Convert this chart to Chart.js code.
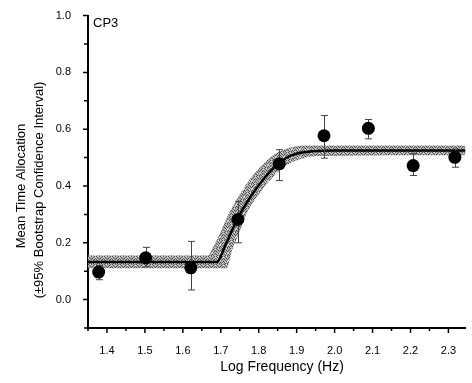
<!DOCTYPE html>
<html>
<head>
<meta charset="utf-8">
<script src="https://cdn.jsdelivr.net/npm/chart.js@4/dist/chart.umd.min.js"></script>
<style>
  html, body { margin: 0; padding: 0; background: #fff; }
  #wrap { width: 472px; height: 383px; }
</style>
</head>
<body>
<div id="wrap"><canvas id="chart"></canvas></div>
<script>
// observed data (log Hz, mean time allocation, 95% bootstrap CI)
var logFreq = [1.378, 1.502, 1.621, 1.745, 1.854, 1.972, 2.089, 2.207, 2.317];
var meanAlloc = [0.097, 0.147, 0.112, 0.282, 0.478, 0.577, 0.603, 0.472, 0.501];
var ciHigh = [0.12, 0.184, 0.205, 0.346, 0.528, 0.648, 0.634, 0.514, 0.53];
var ciLow = [0.07, 0.115, 0.034, 0.2, 0.419, 0.498, 0.566, 0.437, 0.466];

// fitted curve and its confidence band
var fitX = [1.35, 1.69, 1.71, 1.73, 1.75, 1.78, 1.81, 1.84, 1.87, 1.90, 1.94, 2.0, 2.345];
var fitY = [0.132, 0.132, 0.185, 0.245, 0.30, 0.365, 0.42, 0.465, 0.497, 0.514, 0.522, 0.525, 0.525];
var bandHiX = [1.35, 1.665, 1.68, 1.70, 1.72, 1.75, 1.78, 1.81, 1.84, 1.88, 1.93, 2.345];
var bandHiY = [0.155, 0.155, 0.185, 0.24, 0.30, 0.37, 0.43, 0.475, 0.51, 0.535, 0.543, 0.543];
var bandLoX = [1.35, 1.715, 1.73, 1.75, 1.767, 1.80, 1.83, 1.87, 1.91, 1.96, 2.345];
var bandLoY = [0.11, 0.11, 0.175, 0.24, 0.30, 0.37, 0.42, 0.47, 0.495, 0.506, 0.508];

var xTicks = [1.35, 1.4, 1.45, 1.5, 1.55, 1.6, 1.65, 1.7, 1.75, 1.8, 1.85, 1.9, 1.95, 2.0, 2.05, 2.1, 2.15, 2.2, 2.25, 2.3];
var yTicks = [-0.1, 0.0, 0.1, 0.2, 0.3, 0.4, 0.5, 0.6, 0.7, 0.8, 0.9, 1.0];

function pts(xs, ys) {
    return xs.map(function (x, i) { return { x: x, y: ys[i] }; });
}

// speckled grey fill for the confidence band
function stipple() {
    var c = document.createElement('canvas');
    c.width = 8; c.height = 8;
    var g = c.getContext('2d');
    g.fillStyle = '#b0b0b0';
    g.fillRect(0, 0, 8, 8);
    var dark = [[0, 0], [3, 0], [6, 0], [1, 1], [5, 1], [2, 2], [4, 2], [7, 2], [0, 3], [3, 3], [6, 3],
                [1, 4], [5, 4], [2, 5], [7, 5], [0, 6], [4, 6], [6, 6], [3, 7], [1, 7], [5, 7]];
    g.fillStyle = '#555555';
    dark.forEach(function (p) { g.fillRect(p[0], p[1], 1, 1); });
    g.fillStyle = '#e8e8e8';
    [[2, 0], [7, 1], [4, 4], [1, 5], [6, 7], [3, 5]].forEach(function (p) { g.fillRect(p[0], p[1], 1, 1); });
    return g.createPattern(c, 'repeat');
}

var FONT = '"Liberation Sans", Arial, sans-serif';

function isMajor(v, step) {
    return Math.abs(Math.round(v / step) * step - v) < 1e-6;
}

var extras = {
    id: 'extras',
    afterDatasetDraw: function (chart, args) {
        if (args.index !== 2) return;
        // error bars, drawn after the fit line and before the markers
        var ctx = chart.ctx, xs = chart.scales.x, ys = chart.scales.y;
        ctx.save();
        ctx.strokeStyle = '#444';
        ctx.lineWidth = 1;
        logFreq.forEach(function (f, i) {
            var px = Math.round(xs.getPixelForValue(f)) + 0.5;
            var top = ys.getPixelForValue(ciHigh[i]);
            var bot = ys.getPixelForValue(ciLow[i]);
            ctx.beginPath();
            ctx.moveTo(px, top); ctx.lineTo(px, bot);
            ctx.moveTo(px - 3.5, top); ctx.lineTo(px + 3.5, top);
            ctx.moveTo(px - 3.5, bot); ctx.lineTo(px + 3.5, bot);
            ctx.stroke();
        });
        ctx.restore();
    },
    afterDraw: function (chart) {
        var ctx = chart.ctx, xs = chart.scales.x, ys = chart.scales.y;
        var area = chart.chartArea;
        ctx.save();
        ctx.strokeStyle = '#000';
        ctx.lineWidth = 1.5;
        ctx.beginPath();
        xTicks.forEach(function (v) {
            var px = xs.getPixelForValue(v);
            var len = isMajor(v, 0.1) ? 5 : 3;
            ctx.moveTo(px, area.bottom); ctx.lineTo(px, area.bottom + len);
        });
        yTicks.forEach(function (v) {
            var py = ys.getPixelForValue(v);
            var len = isMajor(v, 0.2) ? 5 : 4;
            ctx.moveTo(area.left, py); ctx.lineTo(area.left - len, py);
        });
        ctx.stroke();

        ctx.fillStyle = '#000';
        ctx.font = '13px ' + FONT;
        ctx.textAlign = 'left';
        ctx.textBaseline = 'middle';
        ctx.fillText('CP3', area.left + 5, 23);

        // y axis title, two lines
        ctx.textAlign = 'center';
        ctx.save();
        ctx.translate(21, 186);
        ctx.rotate(-Math.PI / 2);
        ctx.fillText('Mean Time Allocation', 0, 0);
        ctx.restore();
        ctx.save();
        ctx.translate(39, 190);
        ctx.rotate(-Math.PI / 2);
        ctx.fillText('(\u00b195% Bootstrap Confidence Interval)', 0, 0);
        ctx.restore();

        ctx.font = '14px ' + FONT;
        ctx.fillText('Log Frequency (Hz)', 282, 367);
        ctx.restore();
    }
};

new Chart(document.getElementById('chart'), {
    type: 'scatter',
    data: {
        datasets: [{
            data: pts(bandHiX, bandHiY),
            order: 2,
            showLine: true,
            fill: '+1',
            backgroundColor: stipple(),
            borderWidth: 0,
            pointRadius: 0,
            cubicInterpolationMode: 'monotone'
        }, {
            data: pts(bandLoX, bandLoY),
            order: 3,
            showLine: true,
            fill: false,
            borderWidth: 0,
            pointRadius: 0,
            cubicInterpolationMode: 'monotone'
        }, {
            data: pts(fitX, fitY),
            order: 1,
            showLine: true,
            fill: false,
            borderColor: '#000',
            borderWidth: 2.5,
            pointRadius: 0,
            cubicInterpolationMode: 'monotone'
        }, {
            data: pts(logFreq, meanAlloc),
            order: 0,
            showLine: false,
            pointRadius: 6.5,
            pointBackgroundColor: '#000',
            pointBorderColor: '#000',
            pointBorderWidth: 0
        }]
    },
    options: {
        responsive: true,
        maintainAspectRatio: false,
        animation: false,
        layout: { padding: { top: 15, right: 0, left: 0, bottom: 0 } },
        plugins: {
            legend: { display: false },
            tooltip: { enabled: false }
        },
        scales: {
            x: {
                type: 'linear',
                min: 1.35,
                max: 2.345,
                afterFit: function (s) { s.height = 55; },
                afterBuildTicks: function (s) {
                    s.ticks = xTicks.map(function (v) { return { value: v }; });
                },
                grid: { display: false },
                border: { display: true, color: '#000', width: 2 },
                ticks: {
                    padding: 8,
                    color: '#000',
                    font: { family: FONT, size: 11 },
                    maxRotation: 0,
                    autoSkip: false,
                    callback: function (v) { return isMajor(v, 0.1) ? v.toFixed(1) : ''; }
                }
            },
            y: {
                min: -0.1,
                max: 1.0,
                afterFit: function (s) { s.width = 88; },
                afterBuildTicks: function (s) {
                    s.ticks = yTicks.map(function (v) { return { value: v }; });
                },
                grid: { display: false },
                border: { display: true, color: '#000', width: 2 },
                ticks: {
                    padding: 9,
                    color: '#000',
                    font: { family: FONT, size: 11 },
                    autoSkip: false,
                    callback: function (v) { return (v > -0.05 && isMajor(v, 0.2)) ? v.toFixed(1) : ''; }
                }
            }
        }
    },
    plugins: [extras]
});
</script>
</body>
</html>
